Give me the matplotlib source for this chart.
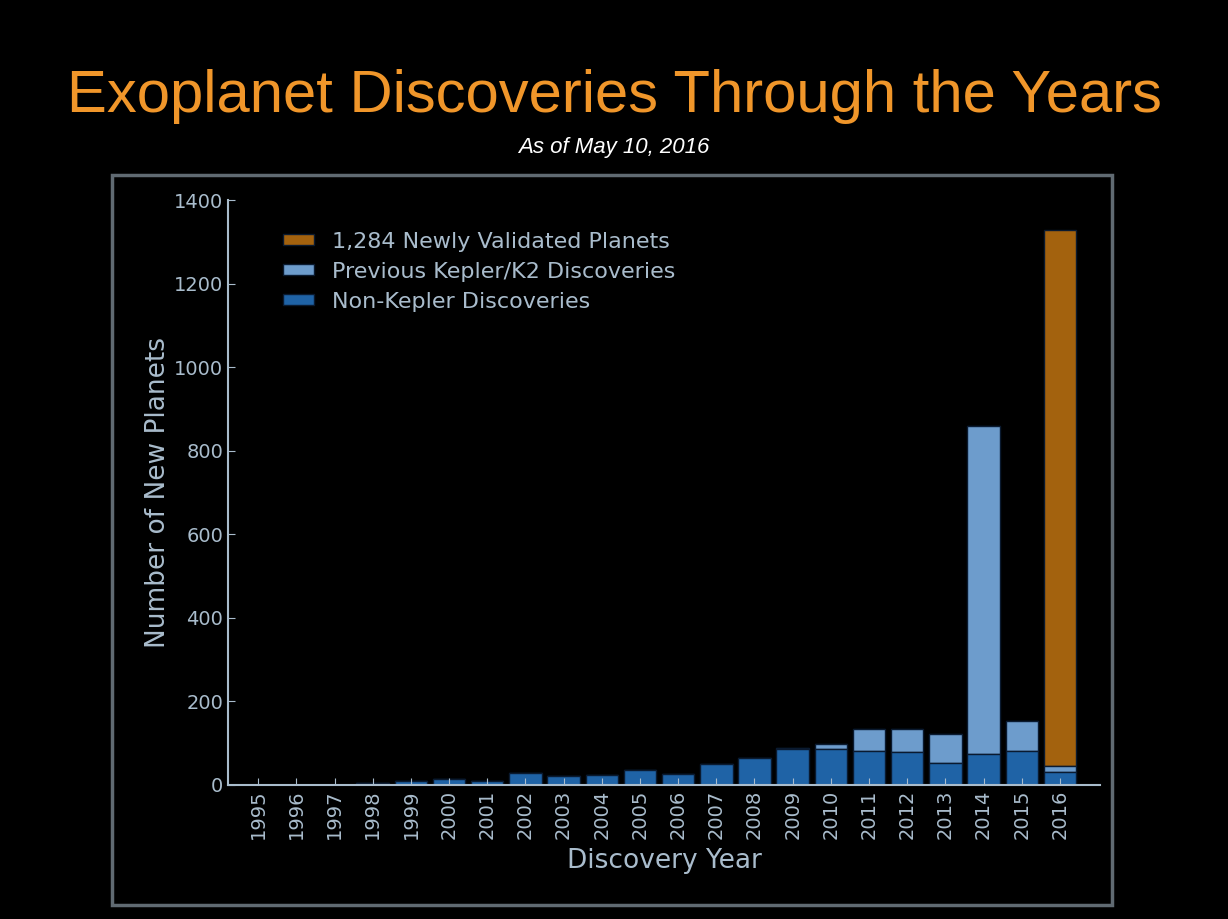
import matplotlib.pyplot as plt
from matplotlib.patches import Rectangle

years = [str(y) for y in range(1995, 2017)]
non_kepler = [1, 1, 1, 5, 10, 15, 10, 28, 22, 25, 37, 27, 50, 65, 85, 87, 82, 80, 52, 75, 82, 30]
prev_kepler = [0, 0, 0, 0, 0, 0, 0, 0, 0, 0, 0, 0, 0, 0, 3, 10, 53, 55, 70, 783, 71, 15]
new_validated = [0] * 21 + [1284]

txt = "#a9bccc"
fig = plt.figure(figsize=(12.28, 9.19), dpi=100, facecolor="black")
fig.patches.append(Rectangle((112 / 1228, 1 - 905 / 919), 1000 / 1228, 730 / 919,
                             transform=fig.transFigure, fill=False,
                             edgecolor="#606a72", linewidth=2.5))
fig.text(0.5, 1 - 97 / 919, "Exoplanet Discoveries Through the Years", color="#f0962a",
         fontsize=43, ha="center", va="center", family="Liberation Sans")
fig.text(0.5, 1 - 147 / 919, "As of May 10, 2016", color="white", fontsize=16,
         ha="center", va="center", style="italic", family="Liberation Sans")

ax = fig.add_axes([228 / 1228, 1 - 785 / 919, 872 / 1228, 585 / 919])
ax.set_facecolor("black")
x = range(len(years))
bottom2 = [a + b for a, b in zip(non_kepler, prev_kepler)]
ax.bar(x, new_validated, 0.85, bottom=bottom2, color="#a3620e", edgecolor="#0a1a30",
       linewidth=1, label="1,284 Newly Validated Planets")
ax.bar(x, prev_kepler, 0.85, bottom=non_kepler, color="#6d9ccc", edgecolor="#0a1a30",
       linewidth=1, label="Previous Kepler/K2 Discoveries")
ax.bar(x, non_kepler, 0.85, color="#1f63a6", edgecolor="#0a1a30", linewidth=1,
       label="Non-Kepler Discoveries")
handles, labels = ax.get_legend_handles_labels()
leg = ax.legend(handles, labels, loc="upper left", bbox_to_anchor=(0.04, 0.98),
                frameon=False, fontsize=16, handlelength=1.4, handleheight=0.4,
                labelspacing=0.45)
for t in leg.get_texts():
    t.set_color(txt)

ax.set_xlim(-0.79, 22.05)
ax.set_ylim(0, 1400)
ax.set_yticks(range(0, 1401, 200))
ax.set_xticks(list(x))
ax.set_xticklabels(years, rotation=90)
ax.tick_params(colors=txt, labelsize=14, direction="in", length=5)
for s in ["top", "right"]:
    ax.spines[s].set_visible(False)
for s in ["left", "bottom"]:
    ax.spines[s].set_color(txt)
    ax.spines[s].set_linewidth(1.5)
ax.set_xlabel("Discovery Year", color=txt, fontsize=19, labelpad=6)
ax.set_ylabel("Number of New Planets", color=txt, fontsize=19, labelpad=2)
fig.savefig("out.png", facecolor="black")
